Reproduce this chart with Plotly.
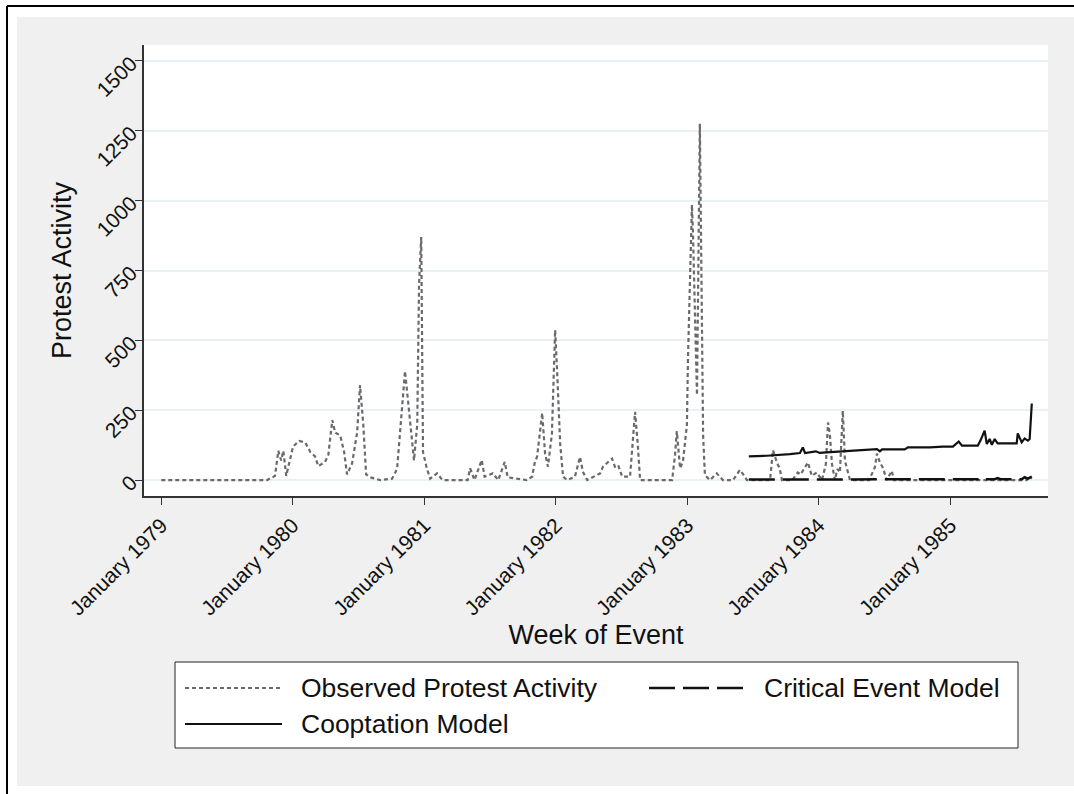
import plotly.graph_objects as go

# ---- data ----
obs_dates = [
    "1979-01-01", "1979-10-22", "1979-11-13", "1979-11-22", "1979-11-30", "1979-12-06",
    "1979-12-14", "1979-12-25", "1980-01-02", "1980-01-19", "1980-02-05", "1980-02-19",
    "1980-03-03", "1980-03-12", "1980-03-31", "1980-04-09", "1980-04-20", "1980-04-28",
    "1980-05-12", "1980-05-23", "1980-05-31", "1980-06-14", "1980-06-28", "1980-07-06",
    "1980-07-15", "1980-07-23", "1980-08-03", "1980-08-31", "1980-10-03", "1980-10-17",
    "1980-10-31", "1980-11-08", "1980-11-19", "1980-12-03", "1980-12-12", "1980-12-17",
    "1980-12-23", "1980-12-28", "1981-01-08", "1981-01-17", "1981-02-05", "1981-02-20",
    "1981-05-01", "1981-05-08", "1981-05-20", "1981-06-09", "1981-06-17", "1981-07-10",
    "1981-07-25", "1981-08-12", "1981-08-20", "1981-10-12", "1981-10-27", "1981-11-03",
    "1981-11-10", "1981-11-24", "1981-12-02", "1981-12-10", "1981-12-21", "1981-12-30",
    "1982-01-04", "1982-01-13", "1982-01-21", "1982-02-01", "1982-02-23", "1982-03-09",
    "1982-03-17", "1982-03-29", "1982-05-04", "1982-05-12", "1982-06-06", "1982-06-14",
    "1982-06-23", "1982-07-04", "1982-07-26", "1982-08-09", "1982-08-17", "1982-08-23",
    "1982-11-20", "1982-11-28", "1982-12-03", "1982-12-12", "1982-12-20", "1982-12-31",
    "1983-01-03", "1983-01-14", "1983-01-17", "1983-01-22", "1983-01-28", "1983-02-05",
    "1983-02-11", "1983-02-14", "1983-02-19", "1983-03-05", "1983-03-24", "1983-04-10",
    "1983-05-08", "1983-05-27", "1983-06-05", "1983-06-16", "1983-08-19", "1983-08-27",
    "1983-09-07", "1983-09-15", "1983-09-21", "1983-10-20", "1983-11-04", "1983-11-12",
    "1983-12-02", "1983-12-13", "1983-12-27", "1984-01-10", "1984-01-21", "1984-01-27",
    "1984-02-01", "1984-02-07", "1984-02-15", "1984-02-22", "1984-02-29", "1984-03-08",
    "1984-03-14", "1984-03-19", "1984-03-28", "1984-05-20", "1984-05-28", "1984-06-05",
    "1984-06-11", "1984-06-19", "1984-06-27", "1984-07-08", "1984-07-22", "1984-07-28",
    "1985-08-01", "1985-08-09", "1985-08-15",
]
obs_values = [
    0, 0, 15, 105, 70, 105,
    15, 70, 120, 140, 135, 100,
    85, 50, 65, 90, 215, 170,
    160, 100, 20, 60, 170, 340,
    200, 20, 10, 0, 5, 40,
    250, 390, 250, 70, 200, 700,
    870, 100, 40, 5, 24, 0,
    0, 42, 0, 72, 12, 24,
    0, 65, 10, 0, 12, 60,
    85, 240, 95, 48, 165, 537,
    405, 130, 12, 0, 12, 83,
    30, 0, 24, 48, 77, 48,
    54, 12, 12, 244, 119, 0,
    0, 90, 175, 42, 66, 197,
    435, 985, 877, 638, 304, 1275,
    638, 161, 18, 0, 24, 0,
    0, 36, 21, 0, 0, 107,
    63, 40, 0, 0, 27, 20,
    63, 15, 27, 0, 57, 206,
    165, 57, 0, 40, 27, 248,
    69, 45, 0, 0, 21, 45,
    95, 63, 45, 0, 33, 0,
    0, 10, 5,
]

coopt_dates = [
    "1983-06-21", "1983-08-10", "1983-10-13", "1983-11-10", "1983-11-18", "1983-11-24",
    "1983-12-24", "1984-01-04", "1984-01-23", "1984-02-29", "1984-04-05", "1984-04-11",
    "1984-06-11", "1984-06-19", "1984-06-25", "1984-08-13", "1984-08-27", "1984-09-05",
    "1984-11-05", "1984-12-11", "1985-01-08", "1985-01-24", "1985-02-02", "1985-03-18",
    "1985-03-26", "1985-04-06", "1985-04-12", "1985-04-20", "1985-04-26", "1985-05-04",
    "1985-05-12", "1985-07-04", "1985-07-07", "1985-07-18", "1985-07-26", "1985-08-04",
    "1985-08-09", "1985-08-15",
]
coopt_values = [
    85, 87, 93, 97, 117, 97,
    103, 97, 99, 102, 105, 108,
    111, 103, 110, 110, 110, 117,
    117, 120, 120, 138, 123, 123,
    143, 177, 129, 147, 126, 147,
    131, 131, 167, 135, 149, 141,
    147, 274,
]

crit_dates = [
    "1983-06-21", "1984-01-01", "1984-07-01", "1984-11-01", "1985-01-01", "1985-03-18",
    "1985-03-26", "1985-04-03", "1985-05-04", "1985-05-12", "1985-05-20", "1985-07-18",
    "1985-07-26", "1985-08-04", "1985-08-15",
]
crit_values = [
    2, 2, 2, 3, 3, 3,
    9, 3, 3, 7, 3, 3,
    10, 5, 12,
]

year_ticks = ["1979-01-01", "1980-01-01", "1981-01-01", "1982-01-01",
              "1983-01-01", "1984-01-01", "1985-01-01"]
y_ticks = [0, 250, 500, 750, 1000, 1250, 1500]

series_names = ["Observed Protest Activity", "Critical Event Model", "Cooptation Model"]
series_colors = ["#6a6a6a", "#111111", "#111111"]
series_dash = ["4px,3px", "26px,8px", "solid"]
series_width = [2.2, 2.5, 2.2]

# ---- figure ----
FONT = "Liberation Sans, Arial, sans-serif"
W, H = 1074, 794
L, R, T, B = 144, 26, 45, 298
pw, ph = W - L - R, H - T - B


def px_x(p):
    return (p - L) / pw


def px_y(p):
    return (H - B - p) / ph


fig = go.Figure()
for name, xs, ys, col, dsh, wd in zip(
        series_names,
        [obs_dates, crit_dates, coopt_dates],
        [obs_values, crit_values, coopt_values],
        series_colors, series_dash, series_width):
    fig.add_trace(go.Scatter(
        x=xs, y=ys, mode="lines", name=name, showlegend=False,
        line=dict(color=col, width=wd, dash=dsh),
    ))

shapes = [
    dict(type="rect", xref="paper", yref="paper", layer="below",
         x0=px_x(17), x1=px_x(W + 5), y0=px_y(786), y1=px_y(17),
         fillcolor="#f0f0f0", line=dict(width=0)),
    dict(type="rect", xref="paper", yref="paper", layer="below",
         x0=0, x1=1, y0=0, y1=1, fillcolor="white", line=dict(width=0)),
    dict(type="line", xref="paper", yref="paper",
         x0=px_x(7), x1=px_x(W + 5), y0=px_y(6), y1=px_y(6),
         line=dict(color="black", width=2)),
    dict(type="line", xref="paper", yref="paper",
         x0=px_x(7), x1=px_x(7), y0=px_y(6), y1=px_y(H + 5),
         line=dict(color="black", width=2)),
    # legend box
    dict(type="rect", xref="paper", yref="paper",
         x0=px_x(175), x1=px_x(1018), y0=px_y(748), y1=px_y(662),
         fillcolor="white", line=dict(color="#222222", width=1)),
]

# legend entries: (sample x0, sample x1, text x, row y)
legend_pos = [(185, 282, 299, 688), (649, 746, 762, 688), (185, 282, 299, 724)]
annotations = []
for (sx0, sx1, tx, ry), name, col, dsh, wd in zip(
        legend_pos, series_names, series_colors, series_dash, series_width):
    shapes.append(dict(type="line", xref="paper", yref="paper",
                       x0=px_x(sx0), x1=px_x(sx1), y0=px_y(ry), y1=px_y(ry),
                       line=dict(color=col, width=wd, dash=dsh)))
    annotations.append(dict(xref="paper", yref="paper", x=px_x(tx), y=px_y(ry),
                            xanchor="left", yanchor="middle", showarrow=False,
                            text=name, font=dict(size=26.5, family=FONT, color="#111111")))

fig.update_layout(
    width=W, height=H,
    margin=dict(l=L, r=R, t=T, b=B, autoexpand=False),
    paper_bgcolor="white", plot_bgcolor="white",
    font=dict(family=FONT, color="#111111"),
    shapes=shapes,
    annotations=annotations,
    showlegend=False,
)

fig.update_xaxes(
    type="date",
    range=["1978-11-14", "1985-09-29"],
    tickvals=year_ticks, tickformat="%B %Y", tickangle=-45,
    tickfont=dict(size=21, family=FONT, color="#111111"),
    ticks="outside", ticklen=7, tickcolor="#333333", tickwidth=1,
    showgrid=False, zeroline=False,
    showline=True, linecolor="#333333", linewidth=1.5,
    title=dict(text="Week of Event", font=dict(size=27, family=FONT, color="#111111"), standoff=0),
)
fig.update_yaxes(
    range=[-57, 1557],
    tickvals=y_ticks, tickangle=-45,
    tickfont=dict(size=21, family=FONT, color="#111111"),
    ticks="outside", ticklen=7, tickcolor="#333333", tickwidth=1,
    showgrid=True, gridcolor="#e8f1f3", gridwidth=2,
    zeroline=False,
    showline=True, linecolor="#333333", linewidth=1.5,
    title=dict(text="Protest Activity", font=dict(size=27, family=FONT, color="#111111"), standoff=13),
)

fig.write_html("out.html", config={"displayModeBar": False},
               post_script="document.body.style.margin='0';")
